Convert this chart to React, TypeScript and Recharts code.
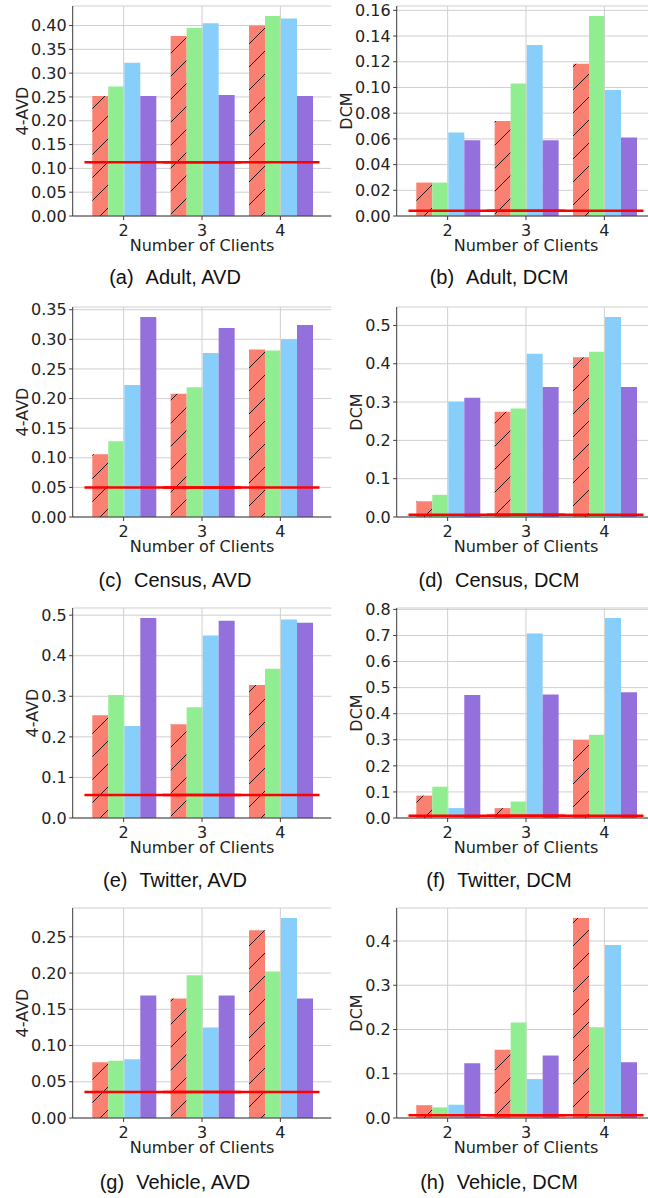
import { BarChart, Bar, XAxis, YAxis, CartesianGrid, ReferenceLine, Label } from 'recharts';

const clients = [2, 3, 4];

// one colour per series, in group order; the first series is hatched
const barColors = ['#FA8072', '#90EE90', '#87CEFA', '#9370DB'];

// each panel: one row per series, one value per client count
const adultAvd = [
  [0.252, 0.378, 0.4],
  [0.272, 0.395, 0.42],
  [0.322, 0.405, 0.415],
  [0.252, 0.254, 0.252],
];
const adultAvdRef = 0.113;

const adultDcm = [
  [0.026, 0.074, 0.1185],
  [0.026, 0.103, 0.1556],
  [0.065, 0.133, 0.098],
  [0.059, 0.059, 0.061],
];
const adultDcmRef = 0.004;

const censusAvd = [
  [0.106, 0.208, 0.283],
  [0.128, 0.219, 0.281],
  [0.223, 0.277, 0.3],
  [0.3377, 0.319, 0.324],
];
const censusAvdRef = 0.05;

const censusDcm = [
  [0.041, 0.275, 0.417],
  [0.058, 0.283, 0.431],
  [0.301, 0.426, 0.522],
  [0.311, 0.339, 0.339],
];
const censusDcmRef = 0.006;

const twitterAvd = [
  [0.253, 0.231, 0.328],
  [0.303, 0.273, 0.368],
  [0.227, 0.45, 0.489],
  [0.493, 0.486, 0.481],
];
const twitterAvdRef = 0.057;

const twitterDcm = [
  [0.086, 0.038, 0.299],
  [0.12, 0.063, 0.319],
  [0.038, 0.708, 0.767],
  [0.472, 0.474, 0.482],
];
const twitterDcmRef = 0.009;

const vehicleAvd = [
  [0.077, 0.165, 0.259],
  [0.079, 0.197, 0.202],
  [0.081, 0.125, 0.276],
  [0.169, 0.169, 0.165],
];
const vehicleAvdRef = 0.036;

const vehicleDcm = [
  [0.029, 0.154, 0.452],
  [0.024, 0.216, 0.205],
  [0.03, 0.088, 0.391],
  [0.124, 0.141, 0.126],
];
const vehicleDcmRef = 0.006;

// y tick values
const ticksAdultAvd = [0, 0.05, 0.1, 0.15, 0.2, 0.25, 0.3, 0.35, 0.4];
const ticksAdultDcm = [0, 0.02, 0.04, 0.06, 0.08, 0.1, 0.12, 0.14, 0.16];
const ticksCensusAvd = [0, 0.05, 0.1, 0.15, 0.2, 0.25, 0.3, 0.35];
const ticksCensusDcm = [0, 0.1, 0.2, 0.3, 0.4, 0.5];
const ticksTwitterAvd = [0, 0.1, 0.2, 0.3, 0.4, 0.5];
const ticksTwitterDcm = [0, 0.1, 0.2, 0.3, 0.4, 0.5, 0.6, 0.7, 0.8];
const ticksVehicleAvd = [0, 0.05, 0.1, 0.15, 0.2, 0.25];
const ticksVehicleDcm = [0, 0.1, 0.2, 0.3, 0.4];

const GRID = '#cfcfcf';
const SPINE = '#3a3a3a';
const TEXT = '#222';
const FONT = 'DejaVu Sans, sans-serif';

const CHART_W = 340;
const TOP_M = 12;
const AXIS_W = 72.7;
const RIGHT_M = 8.7;
const PLOT_H = 210;
const XAXIS_H = 50;
// x runs from 1.35 to 4.65, so a 0.15 pad on each side of the bands
const PLOT_W = CHART_W - AXIS_W - RIGHT_M;
const X_PAD = (PLOT_W / 3.3) * 0.15;

type PanelProps = {
  id: string;
  values: number[][];
  refValue: number;
  yLabel: string;
  yTicks: number[];
  decimals: number;
};

const Panel = ({ id, values, refValue, yLabel, yTicks, decimals }: PanelProps) => {
  const data = clients.map((c, i) => ({
    clients: c,
    s0: values[0][i],
    s1: values[1][i],
    s2: values[2][i],
    s3: values[3][i],
  }));
  const hatchId = `hatch-${id}`;
  const labelX = decimals === 2 ? 22.5 : 32;
  const first = clients[0];
  const last = clients[clients.length - 1];
  const tickStyle = { fill: TEXT, fontSize: 16, fontFamily: FONT };

  return (
    <BarChart
      width={CHART_W}
      height={TOP_M + PLOT_H + XAXIS_H}
      data={data}
      margin={{ top: TOP_M, right: RIGHT_M, left: 0, bottom: 0 }}
      barCategoryGap="10%"
      barGap={0}
    >
      <defs>
        <pattern id={hatchId} patternUnits="userSpaceOnUse" width={23} height={23}>
          <rect width={23} height={23} fill={barColors[0]} />
          <path d="M-2,2 L2,-2 M0,23 L23,0 M21,25 L25,21" stroke="#1a1a1a" strokeWidth={1} />
        </pattern>
      </defs>
      <CartesianGrid vertical={false} stroke={GRID} />
      {clients.map((c) => (
        <ReferenceLine key={c} x={c} stroke={GRID} ifOverflow="visible" />
      ))}
      <XAxis
        dataKey="clients"
        height={XAXIS_H}
        padding={{ left: X_PAD, right: X_PAD }}
        tickSize={4}
        tickMargin={5}
        tick={tickStyle}
        axisLine={{ stroke: SPINE }}
        tickLine={{ stroke: SPINE }}
        interval={0}
      >
        <Label value="Number of Clients" position="center" dy={4.3} fill={TEXT} fontSize={16} fontFamily={FONT} />
      </XAxis>
      <XAxis
        xAxisId="top"
        orientation="top"
        dataKey="clients"
        height={0}
        tick={false}
        tickLine={false}
        axisLine={{ stroke: SPINE }}
      />
      <YAxis
        width={AXIS_W}
        domain={[0, (max: number) => max * 1.05]}
        ticks={yTicks}
        interval={0}
        tickFormatter={(v: number) => v.toFixed(decimals)}
        tickSize={3.5}
        tickMargin={2.5}
        tick={tickStyle}
        axisLine={{ stroke: SPINE }}
        tickLine={{ stroke: SPINE }}
      >
        <Label
          value={yLabel}
          angle={-90}
          position="center"
          dx={labelX - AXIS_W / 2}
          fill={TEXT}
          fontSize={16}
          fontFamily={FONT}
        />
      </YAxis>
      <YAxis
        yAxisId="right"
        orientation="right"
        width={0}
        domain={[0, 1]}
        tick={false}
        tickLine={false}
        axisLine={{ stroke: SPINE }}
      />
      {barColors.map((color, i) => (
        <Bar
          key={i}
          dataKey={`s${i}`}
          fill={i === 0 ? `url(#${hatchId})` : color}
          isAnimationActive={false}
        />
      ))}
      {/* reference level, spanning the first band start to the last band end */}
      <ReferenceLine
        segment={[{ x: first, y: refValue }, { x: last, y: refValue }]}
        position="start"
        stroke="#ff0000"
        strokeWidth={2.5}
        ifOverflow="visible"
      />
      <ReferenceLine
        segment={[{ x: first, y: refValue }, { x: last, y: refValue }]}
        position="end"
        stroke="#ff0000"
        strokeWidth={2.5}
        ifOverflow="visible"
      />
    </BarChart>
  );
};

const panels = [
  { id: 'a', caption: 'Adult, AVD', values: adultAvd, refValue: adultAvdRef, yLabel: '4-AVD', yTicks: ticksAdultAvd, decimals: 2 },
  { id: 'b', caption: 'Adult, DCM', values: adultDcm, refValue: adultDcmRef, yLabel: 'DCM', yTicks: ticksAdultDcm, decimals: 2 },
  { id: 'c', caption: 'Census, AVD', values: censusAvd, refValue: censusAvdRef, yLabel: '4-AVD', yTicks: ticksCensusAvd, decimals: 2 },
  { id: 'd', caption: 'Census, DCM', values: censusDcm, refValue: censusDcmRef, yLabel: 'DCM', yTicks: ticksCensusDcm, decimals: 1 },
  { id: 'e', caption: 'Twitter, AVD', values: twitterAvd, refValue: twitterAvdRef, yLabel: '4-AVD', yTicks: ticksTwitterAvd, decimals: 1 },
  { id: 'f', caption: 'Twitter, DCM', values: twitterDcm, refValue: twitterDcmRef, yLabel: 'DCM', yTicks: ticksTwitterDcm, decimals: 1 },
  { id: 'g', caption: 'Vehicle, AVD', values: vehicleAvd, refValue: vehicleAvdRef, yLabel: '4-AVD', yTicks: ticksVehicleAvd, decimals: 2 },
  { id: 'h', caption: 'Vehicle, DCM', values: vehicleDcm, refValue: vehicleDcmRef, yLabel: 'DCM', yTicks: ticksVehicleDcm, decimals: 1 },
];

const rowPlotTop = [5.5, 307.3, 607.7, 908.3];
const rowCaptionY = [276.7, 580, 880, 1181.7];
const colLeft = [0, 324];
const colCaptionX = [175, 499];

export default function App() {
  return (
    <div
      style={{
        position: 'absolute',
        top: 0,
        left: 0,
        width: 648,
        height: 1198,
        overflow: 'hidden',
        background: '#fff',
        fontFamily: FONT,
      }}
    >
      {panels.map((p, idx) => {
        const row = Math.floor(idx / 2);
        const col = idx % 2;
        return (
          <div key={p.id}>
            <div style={{ position: 'absolute', left: colLeft[col], top: rowPlotTop[row] - TOP_M }}>
              <Panel
                id={p.id}
                values={p.values}
                refValue={p.refValue}
                yLabel={p.yLabel}
                yTicks={p.yTicks}
                decimals={p.decimals}
              />
            </div>
            <div
              style={{
                position: 'absolute',
                left: colCaptionX[col] - 150,
                top: rowCaptionY[row] - 11.7,
                width: 300,
                textAlign: 'center',
                fontFamily: '"Liberation Sans", Arial, sans-serif',
                fontSize: 20,
                lineHeight: '24px',
                color: '#111',
                whiteSpace: 'nowrap',
              }}
            >
              <span>({p.id})</span>
              <span style={{ marginLeft: 12 }}>{p.caption}</span>
            </div>
          </div>
        );
      })}
    </div>
  );
}
